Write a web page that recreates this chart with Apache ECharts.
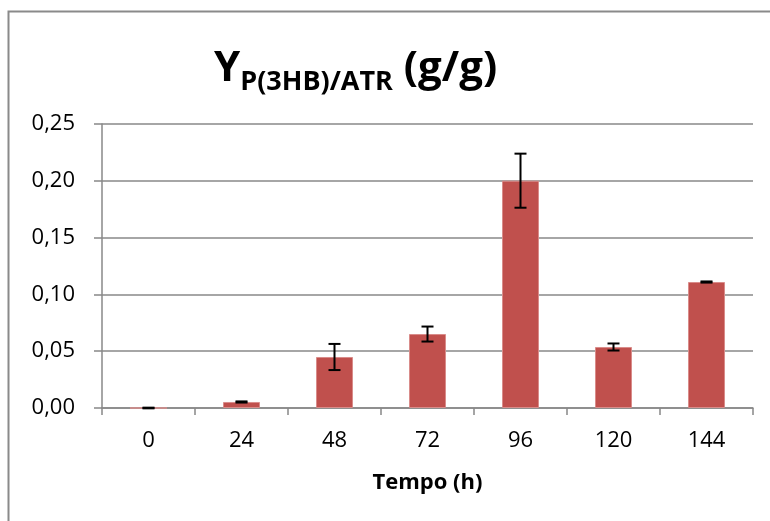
<!DOCTYPE html>
<html>
<head>
<meta charset="utf-8">
<script src="https://cdn.jsdelivr.net/npm/echarts@6/dist/echarts.min.js"></script>
<style>
html,body{margin:0;padding:0;background:#fff;}
#chart{width:770px;height:521px;}
</style>
</head>
<body>
<div id="chart"></div>
<script>
const categories = ['0', '24', '48', '72', '96', '120', '144'];
const values = [0.0, 0.0053, 0.0449, 0.0651, 0.2001, 0.0537, 0.1109];
const errors = [0.0003, 0.0005, 0.0115, 0.0066, 0.0238, 0.0031, 0.0005];
const yTicks = [0, 0.05, 0.10, 0.15, 0.20, 0.25];

const FONT = '"Open Sans", "DejaVu Sans", sans-serif';
const chart = echarts.init(document.getElementById('chart'), null, {renderer: 'canvas'});

const errData = categories.map((c, i) => [i, values[i] - errors[i], values[i] + errors[i]]);

chart.setOption({
  animation: false,
  backgroundColor: '#ffffff',
  graphic: [{
    type: 'rect',
    shape: {x: 8.5, y: 11.5, width: 900, height: 700},
    style: {fill: 'none', stroke: '#8a8a8a', lineWidth: 2},
    silent: true,
    z: -10
  }],
  title: {
    left: 214,
    top: 40,
    padding: 0,
    text: '{a|Y}{b|P(3HB)/ATR}{a| (g/g)}',
    textStyle: {
      rich: {
        a: {fontFamily: FONT, fontWeight: 'bold', fontSize: 42, color: '#000', verticalAlign: 'bottom', lineHeight: 50},
        b: {fontFamily: FONT, fontWeight: 'bold', fontSize: 27, color: '#000', verticalAlign: 'bottom', lineHeight: 50, padding: [0, 0, -6, 0]}
      }
    }
  },
  grid: {left: 102, right: 17, top: 124, bottom: 113, containLabel: false},
  xAxis: {
    type: 'category',
    data: categories,
    boundaryGap: true,
    name: 'Tempo (h)',
    nameLocation: 'middle',
    nameGap: 64,
    nameTextStyle: {fontFamily: FONT, fontWeight: 'bold', fontSize: 22, color: '#000'},
    axisLine: {show: true, lineStyle: {color: '#888888', width: 1.5}},
    axisTick: {show: true, alignWithLabel: false, length: 7, lineStyle: {color: '#888888', width: 1.5}},
    axisLabel: {fontFamily: FONT, fontSize: 22, color: '#000', margin: 22},
    splitLine: {show: false}
  },
  yAxis: {
    type: 'value',
    min: 0,
    max: 0.25,
    interval: 0.05,
    axisLine: {show: true, lineStyle: {color: '#888888', width: 1.5}},
    axisTick: {show: true, length: 8, lineStyle: {color: '#888888', width: 1.5}},
    axisLabel: {
      fontFamily: FONT, fontSize: 22, color: '#000', margin: 27,
      formatter: v => v.toFixed(2).replace('.', ',')
    },
    splitLine: {show: true, lineStyle: {color: '#888888', width: 1.5}}
  },
  series: [{
    type: 'bar',
    data: values,
    barWidth: 37,
    itemStyle: {color: '#C0504D', borderColor: '#d98c8a', borderWidth: 1},
    z: 2
  }, {
    type: 'custom',
    data: errData,
    z: 5,
    renderItem: function (params, api) {
      const x = api.value(0);
      const lo = api.coord([x, api.value(1)]);
      const hi = api.coord([x, api.value(2)]);
      const hw = 6;
      const st = {stroke: '#000', lineWidth: 2};
      return {
        type: 'group',
        children: [
          {type: 'line', shape: {x1: lo[0], y1: lo[1], x2: hi[0], y2: hi[1]}, style: st},
          {type: 'line', shape: {x1: lo[0] - hw, y1: lo[1], x2: lo[0] + hw, y2: lo[1]}, style: st},
          {type: 'line', shape: {x1: hi[0] - hw, y1: hi[1], x2: hi[0] + hw, y2: hi[1]}, style: st}
        ]
      };
    }
  }]
});
</script>
</body>
</html>
